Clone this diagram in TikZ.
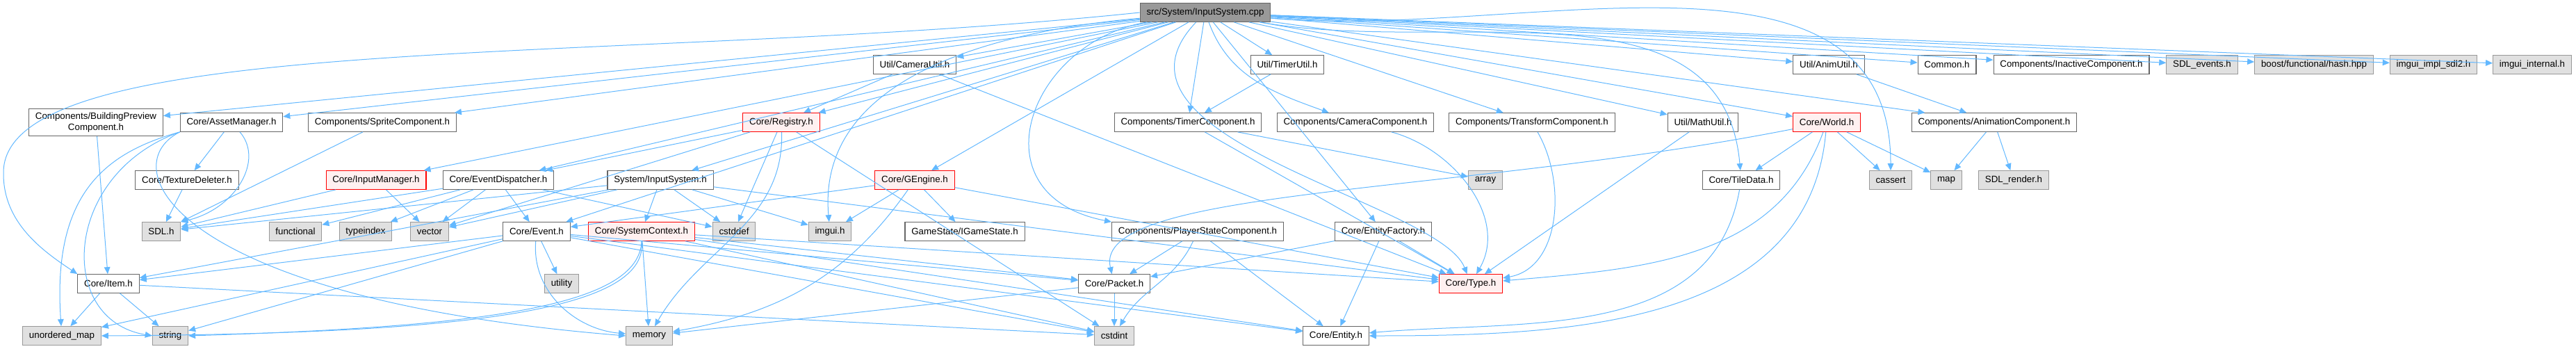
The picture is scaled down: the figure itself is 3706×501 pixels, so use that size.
\documentclass[tikz,border=0pt]{standalone}
\usepackage{fontspec}
\setmainfont{Liberation Sans}
\usepackage{xcolor}
\usetikzlibrary{arrows.meta}

\definecolor{edgeblue}{HTML}{63B8FF}
\definecolor{boxline}{HTML}{666666}
\definecolor{sysline}{HTML}{999999}
\definecolor{sysfill}{HTML}{E0E0E0}
\definecolor{redline}{HTML}{FF0000}
\definecolor{redfill}{HTML}{FFF0F0}
\definecolor{rootfill}{HTML}{999999}

\begin{document}
\begin{tikzpicture}[
        x=0.75pt, y=0.75pt,
        every node/.style={font=\fontsize{10}{12}\selectfont, inner xsep=7pt, inner ysep=0pt, minimum height=20pt, line width=0.8pt},
        file/.style={draw=boxline, fill=white},
        sysfile/.style={draw=sysline, fill=sysfill},
        redfile/.style={draw=redline, fill=redfill},
        rootfile/.style={draw=boxline, fill=rootfill},
        dep/.style={-{Triangle[length=7.5pt, width=6.5pt]}, draw=edgeblue, line width=0.75pt}
    ]
    \useasboundingbox (0,0) rectangle (3706,-501);

    % --- Source file ---
    \node[rootfile] (root) at (1734,-18) {src/System/InputSystem.cpp};

    % --- Row 1 ---
    \node[file] (camutil) at (1316,-93) {Util/CameraUtil.h};
    \node[file] (timerutil) at (1852,-93) {Util/TimerUtil.h};
    \node[file] (animutil) at (2631,-93) {Util/AnimUtil.h};
    \node[file] (common) at (2801,-93) {Common.h};
    \node[file] (inactive) at (2980,-93) {Components/InactiveComponent.h};
    \node[sysfile] (sdlevents) at (3168,-93) {SDL\_events.h};
    \node[sysfile] (boosthash) at (3329,-93) {boost/functional/hash.hpp};
    \node[sysfile] (imguisdl) at (3501,-93) {imgui\_impl\_sdl2.h};
    \node[sysfile] (imguiint) at (3643,-93) {imgui\_internal.h};

    % --- Row 2 ---
    \node[file, align=center, inner ysep=4pt] (building) at (138,-176) {Components/BuildingPreview\\Component.h};
    \node[file] (assetmgr) at (333,-176) {Core/AssetManager.h};
    \node[file] (sprite) at (550,-176) {Components/SpriteComponent.h};
    \node[redfile] (registry) at (1124,-176) {Core/Registry.h};
    \node[file] (timercomp) at (1709,-176) {Components/TimerComponent.h};
    \node[file] (cameracomp) at (1950,-176) {Components/CameraComponent.h};
    \node[file] (transformcomp) at (2204,-176) {Components/TransformComponent.h};
    \node[file] (mathutil) at (2450,-176) {Util/MathUtil.h};
    \node[redfile] (world) at (2628,-176) {Core/World.h};
    \node[file] (animcomp) at (2869,-176) {Components/AnimationComponent.h};

    % --- Row 3 ---
    \node[file] (texdel) at (269,-259) {Core/TextureDeleter.h};
    \node[redfile] (inputmgr) at (541,-259) {Core/InputManager.h};
    \node[file] (evdisp) at (717,-259) {Core/EventDispatcher.h};
    \node[file] (inputsys) at (950,-259) {System/InputSystem.h};
    \node[redfile] (gengine) at (1316,-259) {Core/GEngine.h};
    \node[sysfile] (array) at (2137,-259) {array};
    \node[file] (tiledata) at (2505,-259) {Core/TileData.h};
    \node[sysfile] (cassert) at (2720,-259) {cassert};
    \node[sysfile] (map) at (2800,-259) {map};
    \node[sysfile] (sdlrender) at (2897,-259) {SDL\_render.h};

    % --- Row 4 ---
    \node[sysfile] (sdl) at (232,-333) {SDL.h};
    \node[sysfile] (functional) at (425,-333) {functional};
    \node[sysfile] (typeindex) at (526,-333) {typeindex};
    \node[sysfile] (vector) at (618,-333) {vector};
    \node[file] (event) at (772,-333) {Core/Event.h};
    \node[redfile] (sysctx) at (923,-333) {Core/SystemContext.h};
    \node[sysfile] (cstddef) at (1056,-333) {cstddef};
    \node[sysfile] (imgui) at (1194,-333) {imgui.h};
    \node[file] (igamestate) at (1388,-333) {GameState/IGameState.h};
    \node[file] (playerstate) at (1723,-333) {Components/PlayerStateComponent.h};
    \node[file] (entfactory) at (1990,-333) {Core/EntityFactory.h};

    % --- Row 5 ---
    \node[file] (item) at (156,-408) {Core/Item.h};
    \node[sysfile] (utility) at (808,-408) {utility};
    \node[file] (packet) at (1603,-408) {Core/Packet.h};
    \node[redfile] (type) at (2116,-408) {Core/Type.h};

    % --- Row 6 ---
    \node[sysfile] (umap) at (89,-483) {unordered\_map};
    \node[sysfile] (string) at (245,-483) {string};
    \node[sysfile] (memory) at (934,-483) {memory};
    \node[sysfile] (cstdint) at (1603,-483) {cstdint};
    \node[file] (entity) at (1922,-483) {Core/Entity.h};

    % --- Includes of the source file ---
    \draw[dep] (root) -- (camutil);
    \draw[dep] (root) -- (timerutil);
    \draw[dep] (root) -- (animutil);
    \draw[dep] (root) -- (common);
    \draw[dep] (root) -- (inactive);
    \draw[dep] (root) -- (sdlevents);
    \draw[dep] (root) -- (boosthash);
    \draw[dep] (root) -- (imguisdl);
    \draw[dep] (root) -- (imguiint);
    \draw[dep] (root) -- (building);
    \draw[dep] (root) -- (assetmgr);
    \draw[dep] (root) -- (sprite);
    \draw[dep] (root) -- (registry);
    \draw[dep] (root) -- (timercomp);
    \draw[dep] (root) to[out=-70, in=160] (cameracomp);
    \draw[dep] (root) -- (transformcomp);
    \draw[dep] (root) -- (mathutil);
    \draw[dep] (root) -- (world);
    \draw[dep] (root) -- (animcomp);
    \draw[dep] (root) -- (inputmgr);
    \draw[dep] (root) -- (evdisp);
    \draw[dep] (root) -- (inputsys);
    \draw[dep] (root) -- (gengine);
    \draw[dep] (root) to[out=-10, in=95] (tiledata);
    \draw[dep] (root) to[out=-5, in=90] (cassert);
    \draw[dep] (root) to[out=185, in=95] (imgui);
    \draw[dep] (root) -- (event);
    \draw[dep] (root) -- (entfactory);
    \draw[dep] (root) .. controls (1480,-60) and (1400,-280) .. (playerstate.north west);
    \draw[dep] (root) .. controls (1560,-200) and (2070,-290) .. (type);
    \draw[dep] (root.west) .. controls (900,-95) and (0,-40) .. (5,-250) .. controls (5,-320) and (60,-360) .. (item.north west);

    % --- Utilities ---
    \draw[dep] (camutil) -- (registry);
    \draw[dep] (camutil) -- (type);
    \draw[dep] (timerutil) -- (timercomp);
    \draw[dep] (animutil) -- (animcomp);

    % --- Asset manager and components ---
    \draw[dep] (assetmgr) -- (texdel);
    \draw[dep] (assetmgr) .. controls (380,-230) and (340,-300) .. (sdl.north east);
    \draw[dep] (assetmgr.south west) .. controls (150,-220) and (75,-280) .. (umap);
    \draw[dep] (assetmgr.south west) .. controls (90,-250) and (80,-460) .. (string.west);
    \draw[dep] (assetmgr.south west) .. controls (160,-240) and (250,-430) .. (memory.west);
    \draw[dep] (texdel) -- (sdl);
    \draw[dep] (building) -- (item);
    \draw[dep] (sprite) -- (sdl);
    \draw[dep] (timercomp) -- (array);
    \draw[dep] (timercomp) -- (type);
    \draw[dep] (cameracomp) to[out=-15, in=60] (type);
    \draw[dep] (transformcomp) to[out=-60, in=10] (type);
    \draw[dep] (mathutil) -- (type);
    \draw[dep] (animcomp) -- (map);
    \draw[dep] (animcomp) -- (sdlrender);

    % --- Registry, engine, dispatcher ---
    \draw[dep] (registry) -- (evdisp);
    \draw[dep] (registry) -- (cstddef);
    \draw[dep] (registry) -- (vector);
    \draw[dep] (registry) to[out=-88, in=60] (memory);
    \draw[dep] (registry) -- (cstdint);
    \draw[dep] (gengine) -- (imgui);
    \draw[dep] (gengine) -- (igamestate);
    \draw[dep] (gengine) -- (event);
    \draw[dep] (gengine) to[out=-125, in=10] (memory);
    \draw[dep] (gengine) -- (type);
    \draw[dep] (inputmgr) -- (sdl);
    \draw[dep] (inputmgr) -- (vector);
    \draw[dep] (evdisp) -- (sdl);
    \draw[dep] (evdisp) -- (functional);
    \draw[dep] (evdisp) -- (typeindex);
    \draw[dep] (evdisp) -- (vector);
    \draw[dep] (evdisp) -- (event);
    \draw[dep] (evdisp) -- (cstddef);
    \draw[dep] (inputsys) -- (sdl);
    \draw[dep] (inputsys) -- (vector);
    \draw[dep] (inputsys) -- (sysctx);
    \draw[dep] (inputsys) -- (cstddef);
    \draw[dep] (inputsys) -- (imgui);
    \draw[dep] (inputsys) -- (item);
    \draw[dep] (inputsys) -- (type);

    % --- Core headers ---
    \draw[dep] (event) -- (utility);
    \draw[dep] (event) to[out=-95, in=175] (memory);
    \draw[dep] (event) -- (string);
    \draw[dep] (event) -- (umap);
    \draw[dep] (event) -- (item);
    \draw[dep] (event) -- (packet);
    \draw[dep] (event) -- (cstdint);
    \draw[dep] (event) -- (entity);
    \draw[dep] (sysctx.south) .. controls (920,-440) and (700,-470) .. (string.east);
    \draw[dep] (sysctx.south) .. controls (935,-450) and (650,-480) .. (umap.east);
    \draw[dep] (sysctx) -- (memory);
    \draw[dep] (sysctx) -- (packet);
    \draw[dep] (sysctx) -- (cstdint);
    \draw[dep] (sysctx) -- (entity);
    \draw[dep] (sysctx) -- (type);
    \draw[dep] (playerstate) -- (packet);
    \draw[dep] (playerstate) to[out=-115, in=60] (cstdint);
    \draw[dep] (playerstate) -- (entity);
    \draw[dep] (entfactory) -- (packet);
    \draw[dep] (entfactory) -- (type);
    \draw[dep] (entfactory) -- (entity);
    \draw[dep] (packet) -- (cstdint);
    \draw[dep] (packet) -- (memory);
    \draw[dep] (item) -- (umap);
    \draw[dep] (item) -- (string);
    \draw[dep] (item) -- (cstdint);

    % --- World ---
    \draw[dep] (world) -- (tiledata);
    \draw[dep] (world) -- (cassert);
    \draw[dep] (world) -- (map);
    \draw[dep] (world) to[out=-110, in=5] (type);
    \draw[dep] (world) to[out=-95, in=0] (entity);
    \draw[dep] (world) .. controls (2100,-280) and (1570,-270) .. (packet);
    \draw[dep] (tiledata) to[out=-100, in=5] (entity);

    \end{tikzpicture}
\end{document}
